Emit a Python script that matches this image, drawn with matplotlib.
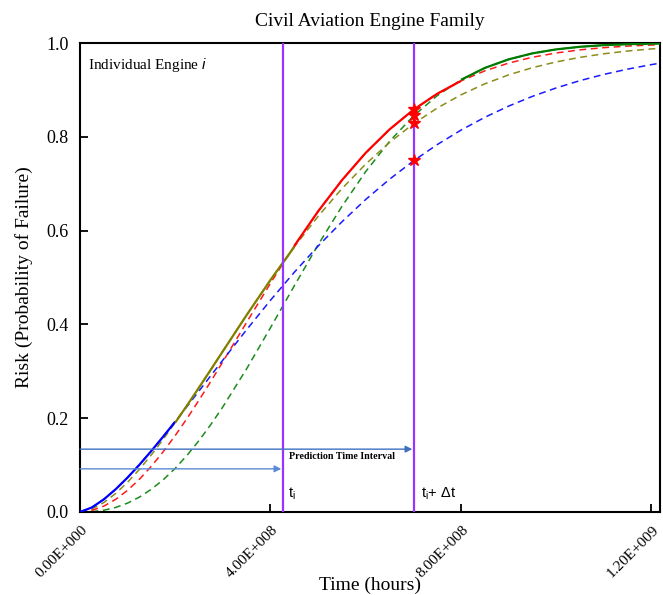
import numpy as np
import matplotlib
matplotlib.use('Agg')
import matplotlib.pyplot as plt
import matplotlib.transforms as mtrans

# ---------------- data ----------------
time_e8 = [0.0, 0.25, 0.5, 0.75, 1.0, 1.25, 1.5, 1.75, 2.0, 2.25, 2.5, 2.75, 3.0,
           3.5, 4.0, 4.5, 5.0, 5.5, 6.0, 6.5, 7.0, 7.5, 8.0, 8.5, 9.0, 9.5, 10.0,
           10.5, 11.0, 11.5, 12.0, 12.2]
risk_blue = [0.0, 0.0097, 0.0269, 0.0486, 0.0736, 0.1010, 0.1304, 0.1611, 0.1928,
             0.2253, 0.2581, 0.2911, 0.3239, 0.3888, 0.4515, 0.5111, 0.5670, 0.6187,
             0.6664, 0.7095, 0.7485, 0.7833, 0.8142, 0.8415, 0.8654, 0.8862, 0.9042,
             0.9198, 0.9330, 0.9443, 0.9539, 0.9573]
risk_red = [0.0, 0.0034, 0.0125, 0.0270, 0.0463, 0.0700, 0.0977, 0.1288, 0.1631,
            0.1998, 0.2386, 0.2790, 0.3204, 0.4046, 0.4878, 0.5674, 0.6411, 0.7074,
            0.7658, 0.8157, 0.8575, 0.8917, 0.9191, 0.9406, 0.9571, 0.9696, 0.9787,
            0.9854, 0.9901, 0.9935, 0.9957, 0.9964]
risk_olive = [0.0, 0.0063, 0.0201, 0.0395, 0.0635, 0.0912, 0.1220, 0.1553, 0.1907,
              0.2275, 0.2655, 0.3040, 0.3428, 0.4200, 0.4948, 0.5653, 0.6304, 0.6894,
              0.7419, 0.7879, 0.8275, 0.8612, 0.8895, 0.9129, 0.9320, 0.9474, 0.9597,
              0.9694, 0.9770, 0.9829, 0.9874, 0.9888]
risk_green = [0.0, 0.0007, 0.0038, 0.0097, 0.0190, 0.0319, 0.0486, 0.0690, 0.0932,
              0.1211, 0.1524, 0.1869, 0.2242, 0.3055, 0.3929, 0.4822, 0.5696, 0.6516,
              0.7258, 0.7902, 0.8442, 0.8876, 0.9214, 0.9468, 0.9651, 0.9779, 0.9864,
              0.9919, 0.9954, 0.9974, 0.9986, 0.9989]

# solid envelope: which curve is on top between which times (1e8 h)
envelope_curves = ['blue', 'olive', 'red', 'green']
envelope_starts = [0.0, 2.0, 4.5, 8.0]
envelope_ends = [2.0, 4.5, 8.0, 12.2]

t_i = 4.256e8
t_i_dt = 7.007e8
star_values = [0.859, 0.846, 0.829, 0.750]

arrow_low_y = 0.092
arrow_high_y = 0.134

xticks = [0.0, 4.0e8, 8.0e8, 1.2e9]
xtick_labels = ['0.00E+000', '4.00E+008', '8.00E+008', '1.20E+009']
yticks = [0.0, 0.2, 0.4, 0.6, 0.8, 1.0]
ytick_labels = ['0.0', '0.2', '0.4', '0.6', '0.8', '1.0']

# ---------------- plotting ----------------
serif = ['Liberation Serif', 'DejaVu Serif']
sans = ['Liberation Sans', 'DejaVu Sans']
plt.rcParams['font.family'] = serif
plt.rcParams['mathtext.fontset'] = 'custom'
plt.rcParams['mathtext.rm'] = 'Liberation Sans'
plt.rcParams['mathtext.it'] = 'Liberation Sans:italic'

fig = plt.figure(figsize=(6.63, 5.95), dpi=100)
ax = fig.add_axes([80 / 663, 1 - 512 / 595, 580 / 663, 469 / 595])

t = np.array(time_e8) * 1e8
curves = {
    'blue': (np.array(risk_blue), '#1a1aff'),
    'red': (np.array(risk_red), '#ff1a1a'),
    'olive': (np.array(risk_olive), '#8c8c1a'),
    'green': (np.array(risk_green), '#1a8c1a'),
}

for name in ['green', 'olive', 'red', 'blue']:
    vals, col = curves[name]
    ax.plot(t, vals, color=col, lw=1.1, ls=(0, (4.5, 3.0)), zorder=2)

solid_cols = {'blue': '#0000ff', 'red': '#ff0000', 'olive': '#808000', 'green': '#007a00'}
for name, s, e in zip(envelope_curves, envelope_starts, envelope_ends):
    vals = curves[name][0]
    m = (np.array(time_e8) >= s) & (np.array(time_e8) <= e)
    ax.plot(t[m], vals[m], color=solid_cols[name], lw=1.6, zorder=3,
            solid_capstyle='butt')

purple = '#9933ff'
ax.axvline(t_i, color=purple, lw=1.6, zorder=4)
ax.axvline(t_i_dt, color=purple, lw=1.6, zorder=4)

ax.plot([t_i_dt] * len(star_values), star_values, ls='none', marker='*',
        ms=9, color='#ff0000', zorder=6)

ax.annotate('', xy=(t_i, arrow_low_y), xytext=(0, arrow_low_y),
            arrowprops=dict(arrowstyle='-|>', color='#5b8ad6', lw=1.0,
                            mutation_scale=10, shrinkA=0, shrinkB=1), zorder=5)
ax.annotate('', xy=(t_i_dt, arrow_high_y), xytext=(0, arrow_high_y),
            arrowprops=dict(arrowstyle='-|>', color='#3f6fc0', lw=1.0,
                            mutation_scale=10, shrinkA=0, shrinkB=1), zorder=5)

ax.text(4.38e8, 0.118, 'Prediction Time Interval', fontsize=7.2,
        fontweight='bold', va='center', ha='left', family=serif)
ax.text(4.37e8, 0.038, r'$\mathregular{t_i}$', fontsize=10.5, va='center',
        ha='left', family=sans)
ax.text(7.16e8, 0.038, r'$\mathregular{t_i}$+ Δt', fontsize=10.5, va='center',
        ha='left', family=sans)
ax.text(0.16e8, 0.953, 'Individual Engine $\\it{i}$', fontsize=11, va='center',
        ha='left', family=serif)

ax.set_xlim(0, 1.218e9)
ax.set_ylim(0, 1.0)
ax.set_xticks(xticks)
ax.set_xticklabels(xtick_labels, rotation=45, ha='right', fontsize=11)
ax.set_yticks(yticks)
ax.set_yticklabels(ytick_labels, fontsize=13)
ax.tick_params(axis='both', direction='in', length=6, width=1.3)
ax.tick_params(axis='y', pad=8)
ax.tick_params(axis='x', pad=8)
offset = mtrans.ScaledTranslation(10 / 100, 0, fig.dpi_scale_trans)
for lab in ax.get_xticklabels():
    lab.set_transform(lab.get_transform() + offset)

for sp in ax.spines.values():
    sp.set_linewidth(1.5)

ax.set_xlabel('Time (hours)', fontsize=14, labelpad=-2)
ax.set_ylabel('Risk (Probability of Failure)', fontsize=14, labelpad=10)
ax.set_title('Civil Aviation Engine Family', fontsize=14, pad=12)

fig.savefig('out.png', dpi=100)
